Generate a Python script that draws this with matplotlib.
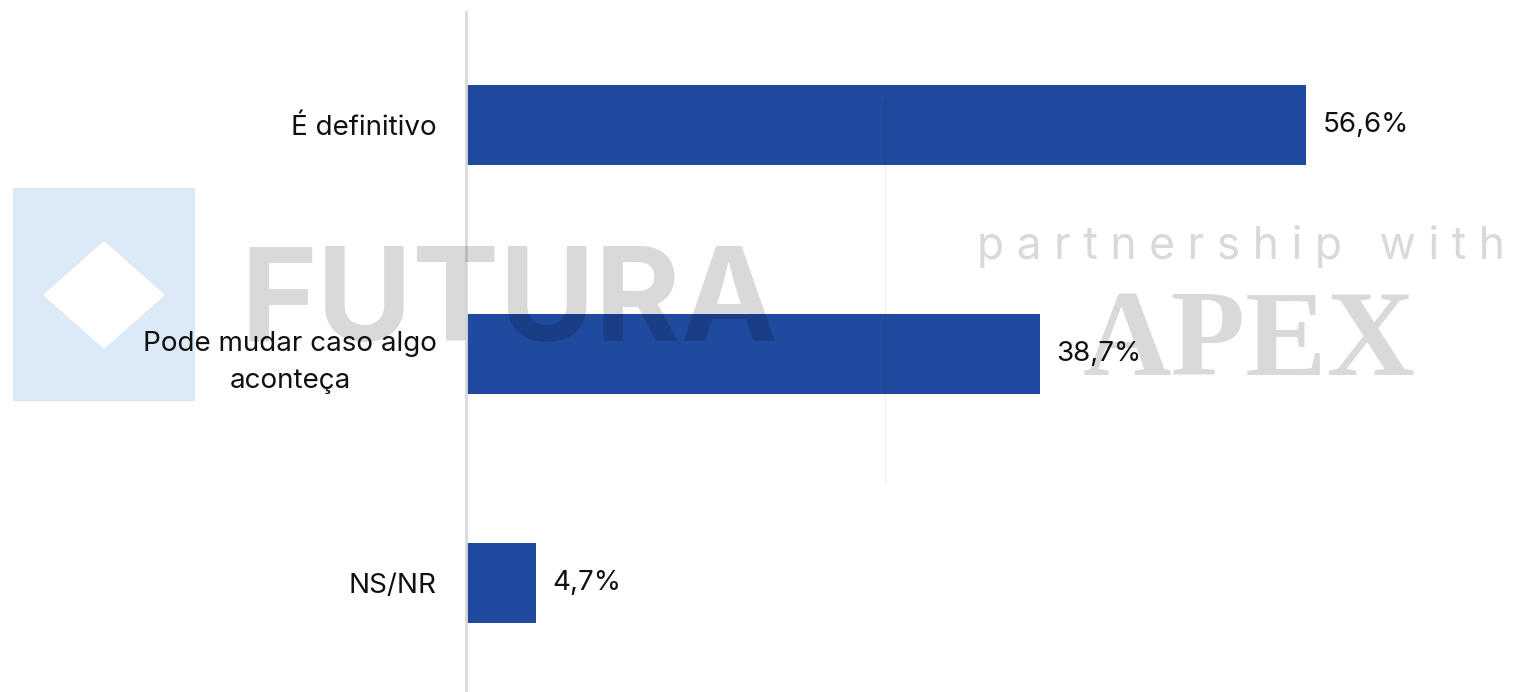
import matplotlib.pyplot as plt
import matplotlib.patches as mpatches
from matplotlib.lines import Line2D

categories = ['É definitivo', 'Pode mudar caso algo\naconteça', 'NS/NR']
values = [56.6, 38.7, 4.7]
value_labels = ['56,6%', '38,7%', '4,7%']

W, H = 1524, 692
BAR = '#1F4A9E'


def fx(x):
    return x / W


def fy(y):
    return 1 - y / H


def main():
    fig = plt.figure(figsize=(W / 100, H / 100), dpi=100)

    # watermark behind the chart
    fig.patches.append(mpatches.Rectangle((fx(13), fy(400)), fx(194) - fx(13), fy(188) - fy(400),
                                          transform=fig.transFigure, color='#DBEAF6', zorder=-2))
    fig.patches.append(mpatches.Polygon([(fx(44), fy(295)), (fx(104), fy(242)), (fx(164), fy(295)), (fx(104), fy(348))],
                                        closed=True, transform=fig.transFigure, color='white', zorder=-1))

    ax = fig.add_axes([fx(466), 0, 1 - fx(466), fy(12)])
    ax.patch.set_alpha(0)
    ypos = range(len(categories))
    ax.barh(ypos, values, height=0.35, color=BAR)
    ax.set_ylim(2.476, -0.493)
    ax.set_xlim(0, (W - 466) / 14.84)
    for s in ['top', 'right', 'bottom']:
        ax.spines[s].set_visible(False)
    ax.spines['left'].set_color('#D9D9D9')
    ax.spines['left'].set_linewidth(2)
    ax.set_xticks([])
    ax.set_yticks(list(ypos))
    ax.set_yticklabels(categories, fontsize=20, family='Inter', color='#111111', linespacing=1.55)
    ax.tick_params(axis='y', length=0, pad=21)
    for lab in ax.get_yticklabels():
        lab.set_multialignment('center')
    for y, v, t in zip(ypos, values, value_labels):
        ax.text(v + 1.1, y, t, va='center', ha='left', fontsize=20, family='Inter', color='#111111')

    # watermark on top
    fig.lines.append(Line2D([fx(885), fx(885)], [fy(100), fy(482)], transform=fig.transFigure,
                            color='black', alpha=0.06, lw=1))
    fig.text(fx(240), fy(341), 'FUTURA', fontsize=94, fontweight='bold', family='Inter',
             color='black', alpha=0.15, ha='left', va='baseline')
    fig.text(fx(977), fy(259), ' '.join('partnership') + '   ' + ' '.join('with'),
             fontsize=32, family='Inter', color='black', alpha=0.15, ha='left', va='baseline')
    fig.text(fx(1083), fy(375), 'APEX', fontsize=88, fontweight='bold', family='Liberation Serif',
             color='black', alpha=0.15, ha='left', va='baseline')

    plt.savefig('out.png', dpi=100)


if __name__ == '__main__':
    main()
